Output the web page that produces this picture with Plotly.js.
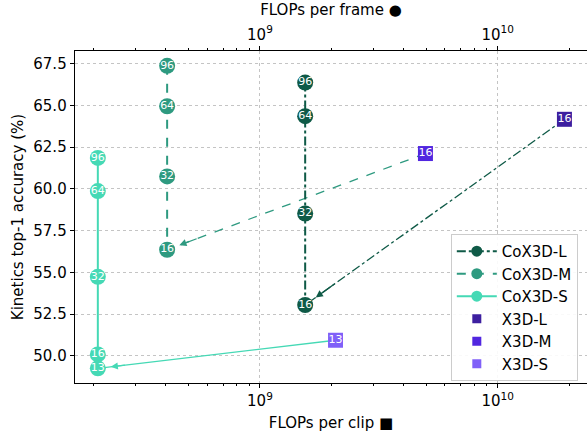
<!DOCTYPE html>
<html>
<head>
<meta charset="utf-8">
<script src="https://cdn.plot.ly/plotly-3.0.1.min.js"></script>
<style>html,body{margin:0;padding:0;background:#fff;}#chart{width:587px;height:433px;}</style>
</head>
<body>
<div id="chart"></div>
<script>
// ---- Data ----
const coxL_frames = [96, 64, 32, 16];
const coxL_acc = [66.36, 64.35, 58.52, 53.04];
const coxL_flops = 1.55e9;   // FLOPs per frame

const coxM_frames = [96, 64, 32, 16];
const coxM_acc = [67.36, 64.94, 60.74, 56.35];
const coxM_flops = 4.07e8;

const coxS_frames = [96, 64, 32, 16, 13];
const coxS_acc = [61.85, 59.86, 54.73, 50.08, 49.25];
const coxS_flops = 2.08e8;

const x3d_names = ['X3D-L', 'X3D-M', 'X3D-S'];
const x3d_frames = [16, 16, 13];
const x3d_flops = [1.91e10, 4.97e9, 2.08e9];  // FLOPs per clip
const x3d_acc = [64.16, 62.11, 50.93];

const yTicks = [50.0, 52.5, 55.0, 57.5, 60.0, 62.5, 65.0, 67.5];
const xMajor = [1e9, 1e10];
const xMajorText = ['10<sup>9</sup>', '10<sup>10</sup>'];

// ---- Styles ----
const cL = '#0f5a47', cM = '#2e9a80', cS = '#45d9b5';
const sqColors = ['#3d1fa0', '#5126e0', '#8060f8'];
const coxColors = [cL, cM, cS];
const coxDash = ['dashdot', 'dash', 'solid'];
const FS = 15;

const xMinor = [];
for (const dec of [1e8, 1e9, 1e10]) for (let k = 2; k <= 9; k++) xMinor.push(k * dec);

const coxSets = [
  {name: 'CoX3D-L', frames: coxL_frames, acc: coxL_acc, flops: coxL_flops},
  {name: 'CoX3D-M', frames: coxM_frames, acc: coxM_acc, flops: coxM_flops},
  {name: 'CoX3D-S', frames: coxS_frames, acc: coxS_acc, flops: coxS_flops},
];
// arrow target index (which clip size) per X3D model
const arrowTarget = [3, 3, 4];

const traces = [];
// arrow shafts (X3D -> CoX3D)
x3d_names.forEach((n, i) => {
  const s = coxSets[i];
  const j = arrowTarget[i];
  traces.push({
    x: [x3d_flops[i], s.flops], y: [x3d_acc[i], s.acc[j]],
    xaxis: 'x', yaxis: 'y', mode: 'lines', showlegend: false, hoverinfo: 'skip',
    line: {color: coxColors[i], width: 1.3, dash: coxDash[i]}
  });
});
coxSets.forEach((s, i) => {
  traces.push({
    name: s.name, showlegend: false,
    x: s.frames.map(() => s.flops), y: s.acc,
    text: s.frames.map(String),
    xaxis: 'x2', yaxis: 'y',
    mode: 'lines+markers+text',
    textposition: 'middle center',
    textfont: {color: '#ffffff', size: 11, family: 'DejaVu Sans'},
    line: {color: coxColors[i], width: 2, dash: coxDash[i]},
    marker: {color: coxColors[i], size: 16, symbol: 'circle', line: {width: 0}}
  });
});
x3d_names.forEach((n, i) => {
  traces.push({
    name: n, showlegend: false,
    x: [x3d_flops[i]], y: [x3d_acc[i]], text: [String(x3d_frames[i])],
    xaxis: 'x', yaxis: 'y',
    mode: 'markers+text', textposition: 'middle center',
    textfont: {color: '#ffffff', size: 11, family: 'DejaVu Sans'},
    marker: {color: sqColors[i], size: 15, symbol: 'square', line: {width: 0}}
  });
});
// legend-only entries (smaller symbols, as in the reference legend)
coxSets.forEach((s, i) => {
  traces.push({
    name: s.name, x: [null], y: [null], xaxis: 'x', yaxis: 'y',
    mode: 'lines+markers',
    line: {color: coxColors[i], width: 2, dash: coxDash[i]},
    marker: {color: coxColors[i], size: 11, symbol: 'circle', line: {width: 0}}
  });
});
x3d_names.forEach((n, i) => {
  traces.push({
    name: n, x: [null], y: [null], xaxis: 'x', yaxis: 'y',
    mode: 'markers',
    marker: {color: sqColors[i], size: 9, symbol: 'square', line: {width: 0}}
  });
});

const annotations = x3d_names.map((n, i) => {
  const s = coxSets[i];
  const j = arrowTarget[i];
  const tx = Math.log10(s.flops), ty = s.acc[j];
  const sx = Math.log10(x3d_flops[i]), sy = x3d_acc[i];
  const f = 0.12;
  return {
    x: tx, y: ty, xref: 'x', yref: 'y',
    ax: tx + f * (sx - tx), ay: ty + f * (sy - ty), axref: 'x', ayref: 'y',
    text: '', showarrow: true, arrowhead: 2, arrowsize: 1.1, arrowwidth: 1.3,
    arrowcolor: coxColors[i], standoff: 13
  };
});

const xRange = [8.222, 10.376];
const axisCommon = {
  type: 'log', range: xRange,
  tickvals: xMajor, ticktext: xMajorText,
  ticks: 'outside', ticklen: 4, tickwidth: 1, tickcolor: '#000',
  minor: {tickmode: 'array', tickvals: xMinor, ticks: 'outside', ticklen: 2, tickcolor: '#000', showgrid: false},
  showline: true, linecolor: '#000', linewidth: 1.3,
  tickfont: {size: FS, color: '#000'},
  zeroline: false
};

const layout = {
  width: 587, height: 433,
  margin: {l: 75, r: 0, t: 51, b: 50},
  paper_bgcolor: '#fff', plot_bgcolor: '#fff',
  font: {family: 'DejaVu Sans', color: '#000', size: FS},
  showlegend: true,
  xaxis: Object.assign({}, axisCommon, {
    side: 'bottom', anchor: 'y',
    showgrid: true, gridcolor: '#c4c4c4', griddash: 'dot', gridwidth: 1,
    title: {text: 'FLOPs per clip ■', font: {size: FS}, standoff: 8}
  }),
  xaxis2: Object.assign({}, axisCommon, {
    side: 'top', overlaying: 'x', anchor: 'y', showgrid: false,
    title: {text: 'FLOPs per frame ●', font: {size: FS}, standoff: 4}
  }),
  yaxis: {
    range: [48.37, 68.25], tickvals: yTicks, tickformat: '.1f',
    ticks: 'outside', ticklen: 4, tickcolor: '#000',
    showline: true, linecolor: '#000', linewidth: 1.3,
    showgrid: true, gridcolor: '#c4c4c4', griddash: 'dot', gridwidth: 1,
    zeroline: false, tickfont: {size: FS, color: '#000'},
    title: {text: 'Kinetics top-1 accuracy (%)', font: {size: FS}, standoff: 6}
  },
  legend: {
    x: 0.734, y: 0.449, xanchor: 'left', yanchor: 'top',
    bgcolor: 'rgba(255,255,255,0.9)', bordercolor: '#cccccc', borderwidth: 1,
    font: {size: FS, color: '#000'}, itemwidth: 40
  },
  annotations: annotations
};

Plotly.newPlot('chart', traces, layout, {displayModeBar: false, staticPlot: true});
</script>
</body>
</html>
